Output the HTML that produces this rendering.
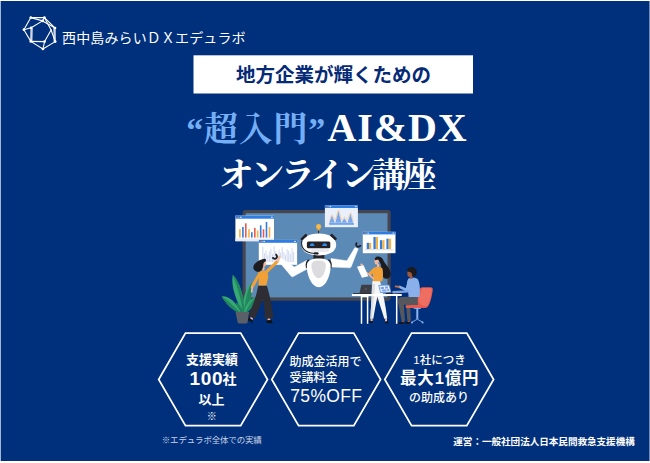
<!DOCTYPE html>
<html lang="ja"><head><meta charset="utf-8"><title>“超入門”AI&amp;DX オンライン講座</title>
<style>
html,body{margin:0;padding:0;background:#fff}
body{width:650px;height:463px;position:relative;overflow:hidden;font-family:"Liberation Sans","Noto Sans CJK JP",sans-serif}
.sans{font-family:"Liberation Sans","Noto Sans CJK JP",sans-serif}
.serif{font-family:"Liberation Serif","Noto Serif CJK SC",serif}
</style></head><body>
<svg width="650" height="463" viewBox="0 0 650 463" style="position:absolute;left:0;top:0">
<rect x="0" y="0" width="650" height="463" fill="#fff"/>
<rect x="0.65" y="1" width="648.9" height="460" fill="#00307c"/>
<g stroke="#fff" stroke-width="1.1" stroke-linecap="round" fill="none"><path d="M30.8 17.6L44.4 17.6"/><path d="M44.4 17.6L55 28"/><path d="M55 28L55.2 41.6"/><path d="M55.2 41.6L42.9 49"/><path d="M42.9 49L30.8 41.4"/><path d="M30.8 41.4L23.9 29.7"/><path d="M23.9 29.7L30.8 17.6"/><path d="M30.8 17.6L42.6 20.9"/><path d="M42.6 20.9L44.4 17.6"/><path d="M42.6 20.9L55 28"/><path d="M42.6 20.9L31.1 27.8"/><path d="M31.1 27.8L23.9 29.7"/><path d="M31.1 27.8L30.8 41.4"/><path d="M30.8 41.4L44.6 41.6"/><path d="M44.6 41.6L42.9 49"/><path d="M44.6 41.6L51.1 30"/><path d="M44.4 17.6L51.1 30"/><path d="M51.1 30L55.2 41.6"/><path d="M32.1 28.2L31.8 41"/><path d="M54 28.6L54.2 41.2" /></g><g fill="#fff"><circle cx="30.8" cy="17.6" r="1.35"/><circle cx="44.4" cy="17.6" r="1.35"/><circle cx="55" cy="28" r="1.35"/><circle cx="55.2" cy="41.6" r="1.35"/><circle cx="42.9" cy="49" r="1.35"/><circle cx="30.8" cy="41.4" r="1.35"/><circle cx="23.9" cy="29.7" r="1.35"/><circle cx="42.6" cy="20.9" r="1.35"/><circle cx="31.1" cy="27.8" r="1.35"/><circle cx="44.6" cy="41.6" r="1.35"/></g>
<rect x="193.5" y="55.3" width="279.5" height="38.2" fill="#fff"/>
<g id="illu">
<!-- screen -->
<rect x="242.5" y="210.1" width="148.2" height="90.6" rx="3" fill="#45464e"/>
<rect x="245.7" y="213.2" width="141.8" height="84.2" fill="#5c8ab7"/>
<!-- plant -->
<g>
<path d="M242.6 311.5C242 300 245.6 288.5 251.2 282.5C253.6 291 250.4 303.5 246 311.8Z" fill="#35a873"/>
<path d="M244.2 311.5C245 300 248 290 251.2 282.5C253.6 291 250.4 303.5 246 311.8Z" fill="#22875c"/>
<path d="M244.2 311.8C245.8 304 250.6 298.6 255.8 296.8C255.4 303.4 251 309.6 246.6 312.4Z" fill="#35a873"/>
<path d="M245.6 312C248.5 306 252 300.5 255.8 296.8C255.4 303.4 251 309.6 246.6 312.4Z" fill="#22875c"/>
<path d="M241.4 311.8C237 300 230.6 288 232.7 274.8C239.4 281 244.6 297 244.2 311.8Z" fill="#35a873"/>
<path d="M242.9 311.8C241.5 300 237 286 232.7 274.8C239.4 281 244.6 297 244.2 311.8Z" fill="#22875c"/>
<path d="M241 311.8C236.4 303 229 295.6 221.8 296.4C225.4 303.4 232.6 310 238.4 312.4Z" fill="#35a873"/>
<path d="M221.8 296.4C225.4 303.4 232.6 310 238.4 312.4L240 312C234 306.5 228 300.2 221.8 296.4Z" fill="#22875c"/>
<path d="M241.8 312C238.6 308.4 236.6 305.2 235.3 302.6C239 303.8 242 307.5 243.4 311.6Z" fill="#22875c"/>
<path d="M235.5 312H249.3L247.6 322C247.4 323 247 323.4 246 323.4H239.2C238.2 323.4 237.8 323 237.6 322Z" fill="#5a5f68"/>
</g>
<!-- window 1 -->
<g>
<rect x="235.4" y="215.6" width="38.6" height="25.6" fill="#fff"/>
<rect x="235.4" y="238.4" width="38.6" height="2.8" fill="#e6ecf7"/>
<rect x="235.4" y="215.6" width="38.6" height="3.1" fill="#2f7de0"/><circle cx="237.0" cy="217.2" r="0.55" fill="#ea5b4f"/><circle cx="238.6" cy="217.2" r="0.55" fill="#f5b342"/><rect x="240.0" y="216.7" width="1.6" height="1" fill="#dfe9fb"/><rect x="271.0" y="216.7" width="1.8" height="1" fill="#dfe9fb"/>
<g fill="#f5b342"><rect x="239.1" y="229.2" width="1.6" height="8.4"/><rect x="248.2" y="229.2" width="1.6" height="8.4"/><rect x="256.9" y="230.5" width="1.6" height="7.1"/><rect x="268.7" y="227" width="1.6" height="10.6"/></g>
<g fill="#2f7de0"><rect x="242.1" y="227" width="1.6" height="10.6"/><rect x="251" y="232.2" width="1.6" height="5.4"/><rect x="259.9" y="225.3" width="1.6" height="12.3"/><rect x="265.7" y="222" width="1.6" height="15.6"/></g>
<g fill="#ea5b4f"><rect x="245" y="223.3" width="1.6" height="14.3"/><rect x="254" y="227.9" width="1.6" height="9.7"/><rect x="262.7" y="229.2" width="1.6" height="8.4"/></g>
</g>
<!-- window 2 -->
<g>
<rect x="258.8" y="239.9" width="38.3" height="24.9" fill="#fff"/>
<rect x="258.8" y="239.9" width="38.3" height="2.9" fill="#2f7de0"/><circle cx="260.4" cy="241.4" r="0.55" fill="#ea5b4f"/><circle cx="262.0" cy="241.4" r="0.55" fill="#f5b342"/><rect x="263.4" y="240.9" width="1.6" height="1" fill="#dfe9fb"/><rect x="294.1" y="240.9" width="1.8" height="1" fill="#dfe9fb"/>
<g fill="#cfd9ee"><rect x="262.3" y="246.7" width="1.05" height="15.5"/><rect x="263.9" y="253.2" width="1.05" height="9.0"/><rect x="265.5" y="250.2" width="1.05" height="12.0"/><rect x="267.2" y="255.2" width="1.05" height="7.0"/><rect x="268.8" y="251.7" width="1.05" height="10.5"/><rect x="270.4" y="248.7" width="1.05" height="13.5"/><rect x="272.0" y="254.2" width="1.05" height="8.0"/><rect x="273.6" y="246.2" width="1.05" height="16.0"/><rect x="275.3" y="251.2" width="1.05" height="11.0"/><rect x="276.9" y="255.7" width="1.05" height="6.5"/><rect x="278.5" y="249.7" width="1.05" height="12.5"/><rect x="280.1" y="252.7" width="1.05" height="9.5"/><rect x="281.7" y="247.2" width="1.05" height="15.0"/><rect x="283.4" y="252.2" width="1.05" height="10.0"/><rect x="285.0" y="254.7" width="1.05" height="7.5"/><rect x="286.6" y="249.2" width="1.05" height="13.0"/><rect x="288.2" y="250.7" width="1.05" height="11.5"/><rect x="289.8" y="253.7" width="1.05" height="8.5"/><rect x="291.5" y="248.2" width="1.05" height="14.0"/><rect x="293.1" y="252.2" width="1.05" height="10.0"/></g>
</g>
<!-- window 3 -->
<g>
<rect x="324.9" y="205.4" width="33" height="21.8" fill="#eaf0fb"/>
<rect x="324.9" y="205.4" width="33" height="2.6" fill="#2f7de0"/><circle cx="326.5" cy="206.7" r="0.55" fill="#ea5b4f"/><circle cx="328.1" cy="206.7" r="0.55" fill="#f5b342"/><rect x="329.5" y="206.2" width="1.6" height="1" fill="#dfe9fb"/><rect x="354.9" y="206.2" width="1.8" height="1" fill="#dfe9fb"/>
<path d="M329.3 222.7L331.9 215.6L334.9 222.7ZM335.3 222.7L338.5 211L341.4 222.7ZM341.4 222.7L344.4 218.2L347.2 222.7ZM347.5 222.7L350.5 213.6L353.1 222.7Z" fill="#7ea6ea"/>
<path d="M329.3 221.5C330.5 219 331 214.8 331.9 214.8C333 214.8 334 219.5 335.3 220C336.6 218 337.5 210.2 338.5 210.2C339.6 210.2 340.5 219 341.8 220.2C342.8 219.5 343.5 217 344.4 217C345.4 217 346.5 220 347.5 220C348.6 219 349.5 212.8 350.5 212.8C351.5 212.8 352.3 219 353.5 221.5" fill="none" stroke="#f5b860" stroke-width="0.5"/>
<rect x="329.1" y="223.3" width="24.9" height="1.3" fill="#3f86e0"/>
</g>
<!-- window 4 -->
<g>
<rect x="362.8" y="231.8" width="32.7" height="21.4" fill="#fff"/>
<rect x="362.8" y="231.8" width="32.7" height="2.6" fill="#2f7de0"/><circle cx="364.4" cy="233.1" r="0.55" fill="#ea5b4f"/><circle cx="366.0" cy="233.1" r="0.55" fill="#f5b342"/><rect x="367.4" y="232.6" width="1.6" height="1" fill="#dfe9fb"/><rect x="392.5" y="232.6" width="1.8" height="1" fill="#dfe9fb"/>
<g fill="#2f7de0"><rect x="366.7" y="242.8" width="2.3" height="6.2"/><rect x="373.4" y="237" width="2.4" height="12"/><rect x="379.9" y="240.2" width="2.4" height="8.8"/><rect x="386.4" y="238.7" width="2.3" height="10.3"/></g>
<g fill="#f5b342"><rect x="369" y="242.8" width="2.2" height="6.2"/><rect x="375.8" y="237" width="2.2" height="12"/><rect x="382.3" y="240.2" width="2.2" height="8.8"/><rect x="388.7" y="238.7" width="2.4" height="10.3"/></g>
<rect x="364.7" y="249.5" width="28.6" height="0.7" fill="#b7cbf0"/>
</g>
<!-- robot -->
<g>
<!-- arms -->
<path d="M278 260.4L280.8 257.8L294.4 267L307 260.2L307.6 268.8L293.2 276.6C292.4 277 291.8 276.8 291.2 276.2Z" fill="#fff" stroke="#fff" stroke-width="0.4" stroke-linejoin="round"/>
<path d="M331 258.4L346.9 260.7L354.9 247.6L358.3 248.8L351.2 266.8C350.8 267.6 350.2 267.9 349.4 267.8L331 267Z" fill="#fff" stroke="#fff" stroke-width="0.4" stroke-linejoin="round"/>
<path d="M357.11 242.66A2.25 2.25 0 1 0 360.60 244.97" fill="none" stroke="#1b1b20" stroke-width="1.7"/>
<path d="M272.67 257.17A2.20 2.20 0 1 0 275.37 254.47" fill="none" stroke="#1b1b20" stroke-width="1.8"/>
<!-- neck -->
<rect x="313.4" y="253.5" width="10.9" height="5.4" fill="#222228"/>
<!-- shoulders -->
<path d="M308.6 260.2C306.6 261.5 306 264 306.6 267.6" fill="none" stroke="#222228" stroke-width="1.5" stroke-linecap="round"/>
<path d="M328.8 260.2C330.8 261.5 331.4 264 330.8 267.6" fill="none" stroke="#222228" stroke-width="1.5" stroke-linecap="round"/>
<!-- body -->
<path d="M318.8 258.4C325 258.4 330.6 260 330.6 266C330.6 276 325.5 287.2 318.8 287.2C312 287.2 306.8 276 306.8 266C306.8 260 312.5 258.4 318.8 258.4Z" fill="#fff"/>
<path d="M318.6 260.4C323 260.4 325.8 261.5 325.8 265.5C325.8 271 322.5 278.3 318.6 278.3C314.8 278.3 311.4 271 311.4 265.5C311.4 261.5 314.5 260.4 318.6 260.4Z" fill="#dcdcde"/>
<!-- antenna -->
<rect x="318.1" y="230.3" width="1" height="3.4" fill="#222228"/>
<rect x="317.3" y="228.8" width="2.6" height="1.6" fill="#e0a03a"/>
<circle cx="318.6" cy="226.5" r="2.5" fill="#f7b945"/>
<!-- head -->
<path d="M301.4 245C301.4 238 308.5 233.4 318.8 233.4C329 233.4 336.2 238 336.2 245C336.2 251.5 329 255.4 318.8 255.4C308.5 255.4 301.4 251.5 301.4 245Z" fill="#fff"/>
<rect x="310.9" y="249.3" width="18" height="2.4" rx="1.2" fill="#e6e7ea"/>
<rect x="-1.3" y="-3.8" width="2.6" height="7.6" rx="0.6" fill="#222228" transform="translate(303.9 237.2) rotate(47)"/>
<rect x="-1.3" y="-3.8" width="2.6" height="7.6" rx="0.6" fill="#222228" transform="translate(333.5 237) rotate(-47)"/>
<rect x="306.9" y="241.4" width="23.4" height="6.9" rx="1.5" fill="#222228"/>
<path d="M309.9 246.1A2.25 2.8 0 0 1 314.4 246.1ZM322.3 246.1A2.35 2.8 0 0 1 327 246.1Z" fill="#2f8df0"/>
<path d="M301.9 240.6C300.2 247.4 305 252.6 314.4 253.5" fill="none" stroke="#222228" stroke-width="1.1"/>
<rect x="313.6" y="252.2" width="5" height="2.4" rx="1.2" fill="#222228"/>
</g>
<!-- woman 1 -->
<g>
<path d="M258.2 285.5L266.8 285.5C269.8 295 272 306 273.4 318.4L265 318.9C264.6 311 263.9 304 263 298.8C260.6 305 257.6 312 255.2 318.6L248.2 315.4C252.8 306 256.4 296 258.2 285.5Z" fill="#2d2d33"/>
<path d="M250.6 317L253 318.2L252.4 320.2L250 319Z" fill="#f3b79d"/>
<path d="M249 316.6L250.8 319L252.6 320L252.2 323.4L250.6 321.2L248 320.4Z" fill="#111"/>
<path d="M267.6 318.6H270.2V320.6H267.6Z" fill="#f3b79d"/>
<path d="M266.8 320.2L271.4 320L272.8 323.4L266.4 322.8Z" fill="#111"/>
<path d="M260.2 272.8L252.3 286.6" stroke="#f2a137" stroke-width="3" stroke-linecap="round" fill="none"/>
<path d="M252.2 287.4L251.7 291.8" stroke="#f3b79d" stroke-width="1.7" stroke-linecap="round" fill="none"/>
<path d="M266.2 272.2L277.2 261.6" stroke="#f2a137" stroke-width="3" stroke-linecap="round" fill="none"/>
<path d="M277.8 260.8L279.6 256.8" stroke="#f3b79d" stroke-width="2.2" stroke-linecap="round" fill="none"/>
<path d="M259.9 271.6C262 270.4 265 270.3 266.6 271.4C268.6 274 268.6 277 267.6 280C267 282 266.6 284 266.6 285.6L258.4 285.6C258.8 281 258.6 276 259.9 271.6Z" fill="#f2a137"/>
<rect x="262.4" y="266.2" width="2.1" height="4.4" fill="#f3b79d"/>
<ellipse cx="264.3" cy="264" rx="1.9" ry="2.6" fill="#f3b79d"/>
<path d="M263.4 258.9C265.5 258.3 266.6 259.8 265.8 261.2C264.5 261.6 263.6 262.5 263.4 264C263.3 267 262.5 270 259.9 271.5C257 272.3 253.6 270.8 253.3 267.8C253.2 264 257 260.5 263.4 258.9Z" fill="#1b1b20"/>
</g>
<!-- table legs -->
<path d="M361.5 296V323.7M367.6 296V323.7M396.7 296V323.7" stroke="#fff" stroke-width="1.5" fill="none"/>
<rect x="361" y="295.8" width="7.2" height="1.4" fill="#fff"/>
<!-- woman 2 -->
<g>
<path d="M375.3 257.5C377 255.8 381.5 256 383 259.5C384.5 264 390.5 268 390.7 273.5C390.8 277.5 387.5 279.5 385 278.6C382 277.5 381.3 272 381.3 268C381.3 264.5 380 262 378.6 260.5C377.8 259 376.5 258.2 375.3 257.5Z" fill="#1b1b20"/>
<ellipse cx="376.6" cy="261.3" rx="2.1" ry="3.3" fill="#f3b79d"/>
<path d="M374.8 258.6C376 256.6 380 256.6 381 259.8C379.5 259.6 377 259.6 375 260.2Z" fill="#1b1b20"/>
<rect x="377" y="264" width="2.2" height="3.6" fill="#f3b79d"/>
<path d="M372.4 281C372 294 370.8 307 370.4 318.8L373.3 318.8C374.6 311 376 303 377.4 296.5C379.5 304 382.3 312 384.3 318.8L387.2 318.8C385.8 306 383 293 380 281Z" fill="#f4f5f7"/>
<path d="M372.4 284C372 296 370.8 308 370.4 318.8L372 318.8C373 308 374 296 375 284Z" fill="#dcdde0"/>
<rect x="370.6" y="318.8" width="2" height="2.6" fill="#f3b79d"/><rect x="385" y="318.8" width="2" height="2.8" fill="#f3b79d"/>
<path d="M368.8 321.2H372.9V322.8H368.8Z" fill="#111"/><path d="M385.2 321.6H388.2L388.8 323.3H385.2Z" fill="#111"/>
<path d="M373.6 268C375.6 266.6 380 266.6 382.4 268.2C383.4 272 383 277 382.4 281.2L372.8 281.2C373.2 277 372.6 272 373.6 268Z" fill="#f2a137"/>
<path d="M373.8 269.8L370.2 273.8" stroke="#f2a137" stroke-width="3.4" stroke-linecap="round" fill="none"/>
<path d="M369.6 274.4L365.4 272.2" stroke="#f3b79d" stroke-width="1.5" stroke-linecap="round" fill="none"/>
<path d="M373.4 278.8L369.6 275.4" stroke="#f3b79d" stroke-width="1.5" stroke-linecap="round" fill="none"/>
<path d="M357 266.7L363.4 264.9L368.4 276.3L361.9 277.8Z" fill="#fff"/>
<circle cx="361.6" cy="264.6" r="1.2" fill="#f3b79d"/>
</g>
<!-- table top + laptops -->
<g>
<rect x="351.9" y="293.9" width="49.8" height="2.1" fill="#fff"/>
<path d="M361.4 284.8H371.9L370.9 293.5H359.4Z" fill="#3c3d45"/>
<rect x="353" y="293.2" width="18.4" height="0.8" fill="#222228"/>
<circle cx="365.8" cy="289.2" r="1.1" fill="#565760"/>
<path d="M378.3 285L389.4 284.7L391.5 292.4L380.3 292.9Z" fill="#5d8fe3"/>
<path d="M379.2 285.7L388.8 285.5L390.5 291.8L380.9 292.2Z" fill="#e1ebfb"/>
<path d="M380.6 287H384V289H380.6ZM385 286.6H388V288.4H385ZM382 289.6H386.4V291.4H382ZM387.2 289H389V291H387.2Z" fill="#7da6e8"/>
<rect x="385.6" y="293.1" width="16.2" height="0.9" fill="#222228"/>
</g>
<!-- man -->
<g>
<!-- chair -->
<rect x="416.3" y="308" width="2" height="11" fill="#8db3ee"/>
<rect x="413.8" y="307.8" width="7" height="1.1" fill="#8db3ee"/>
<path d="M412.2 322L417.3 319.2L422.4 322" stroke="#8db3ee" stroke-width="0.9" fill="none" stroke-linecap="round"/>
<circle cx="412" cy="322.4" r="1" fill="#8db3ee"/><circle cx="422.6" cy="322.4" r="1" fill="#8db3ee"/>
<path d="M420 288.6C420.5 287.4 422 287.2 424 287.2L430.5 287.2C432.3 287.2 433 288.4 432.7 290.2C432 296 430.5 303 428 306.4C427 307.7 425.5 307.9 424 307.9L407 307.9C405.3 307.9 405.1 305.6 407 305.2L412 304.3C415 303.5 416.5 301 417 298Z" fill="#e65a50"/>
<path d="M421.6 289C422 288.2 423 288 424.4 288L430 288C431.4 288 432 289 431.7 290.4C431 296 429.6 302.4 427.4 305.6C426 306.4 424 306.2 422.6 305.6C420 304.4 418.6 301.6 419 298.4Z" fill="#ee6e62"/>
<!-- legs -->
<path d="M417.6 296.6L401.5 296.9C398.5 297.2 397.4 299.5 397.9 301.5L401.6 320.8L405 320.8L403.8 304.8L406 305L407.4 320.8L410.8 320.8L410.2 305.2L418 304.9Z" fill="#56575d"/>
<rect x="402" y="320.6" width="2" height="1.8" fill="#a0583a"/><rect x="407.8" y="320.6" width="2" height="1.8" fill="#a0583a"/>
<path d="M398.6 322.2H404V323.7H398.4Z" fill="#111"/><path d="M405 322.2H410.2V323.7H405Z" fill="#111"/>
<path d="M407 305.3L421 305.3L421 307.9L407 307.9C405.3 307.9 405.3 305.3 407 305.3Z" fill="#e65a50"/>
<!-- shirt -->
<path d="M408.4 278.6C411 277.2 415.5 277.4 417.6 279C420 282.5 420.4 290 419.6 297L408.6 297C408.6 291 405.4 284 408.4 278.6Z" fill="#8ab0ec"/>
<path d="M408.8 281.6L406.6 290L399.6 286.9" stroke="#8ab0ec" stroke-width="2.6" stroke-linecap="round" stroke-linejoin="round" fill="none"/>
<path d="M408 291.4L393.4 292.2" stroke="#7ea4e2" stroke-width="2.4" stroke-linecap="round" fill="none"/>
<path d="M399 286.8L395.6 286.4" stroke="#c8703f" stroke-width="1.7" stroke-linecap="round" fill="none"/>
<!-- head -->
<rect x="409.8" y="275.6" width="2.8" height="3" fill="#a0583a"/>
<ellipse cx="410" cy="273.6" rx="2.7" ry="3.5" fill="#a0583a"/>
<path d="M407.2 271C406.6 268 410 266.4 412.6 267C416 267.8 417.4 271 416.6 274C416 276 413.6 277 412.2 275.8C412.4 274 411.6 272.6 410.4 272.2C409.4 271.9 408 271.8 407.2 271Z" fill="#1b1b20"/>
</g>
</g>

<polygon points="158.7,379.45 185.5,333.1 240.7,333.1 267.5,379.45 240.7,425.7 185.5,425.7" fill="none" stroke="#fff" stroke-width="1.75"/><polygon points="271.8,379.45 298.6,333.1 353.8,333.1 380.6,379.45 353.8,425.7 298.6,425.7" fill="none" stroke="#fff" stroke-width="1.75"/><polygon points="384.8,379.45 411.6,333.1 466.8,333.1 493.6,379.45 466.8,425.7 411.6,425.7" fill="none" stroke="#fff" stroke-width="1.75"/>

<g font-family="'Liberation Sans','Noto Sans CJK JP',sans-serif" fill="#fff">
<text x="62" y="42.6" font-size="14" font-weight="400" textLength="183.5" lengthAdjust="spacing">西中島みらいＤＸエデュラボ</text>
<text x="333.6" y="82.3" font-size="19.5" font-weight="700" fill="#062a75" text-anchor="middle">地方企業が輝くための</text>

<text x="212" y="364.3" font-size="13" font-weight="700" text-anchor="middle">支援実績</text>
<text x="189.6" y="384.94" font-size="19" font-weight="700" textLength="33" lengthAdjust="spacing">100</text>
<text x="222.5" y="384.4" font-size="14" font-weight="700">社</text>
<text x="211.5" y="403.6" font-size="13" font-weight="700" text-anchor="middle">以上</text>
<text x="211.85" y="419.6" font-size="10" font-weight="700" text-anchor="middle">※</text>

<text x="289.5" y="365.8" font-size="12" font-weight="500">助成金活用で</text>
<text x="289.5" y="381.8" font-size="12" font-weight="500">受講料金</text>
<text x="290.3" y="401.52" font-size="17.5" font-weight="500" textLength="71.6" lengthAdjust="spacing">75%OFF</text>

<text x="439.5" y="364" font-size="11.5" font-weight="500" text-anchor="middle">1社につき</text>
<text x="400" y="384.47" font-size="16.5" font-weight="700" textLength="78.5" lengthAdjust="spacing">最大1億円</text>
<text x="439.1" y="401.5" font-size="12" font-weight="500" text-anchor="middle">の助成あり</text>

<text x="161.8" y="442.6" font-size="8.5" font-weight="400" fill="#c6d0e6" textLength="100" lengthAdjust="spacing">※エデュラボ全体での実績</text>
<text x="453.3" y="445.4" font-size="9.6" font-weight="700" textLength="181.5" lengthAdjust="spacing">運営：一般社団法人日本民間救急支援機構</text>
</g>

<g font-family="'Liberation Serif','Noto Serif CJK SC',serif" font-weight="700" fill="#fff">
<text x="186.3" y="141" font-size="34" fill="#74aef5" textLength="139" lengthAdjust="spacing">“超入門”</text>
<text x="327.4" y="141.3" font-size="40" textLength="139.2" lengthAdjust="spacing">AI&amp;DX</text>
<text x="219.5" y="187" font-size="34" textLength="217" lengthAdjust="spacing">オンライン講座</text>
</g>
</svg>

</body></html>
